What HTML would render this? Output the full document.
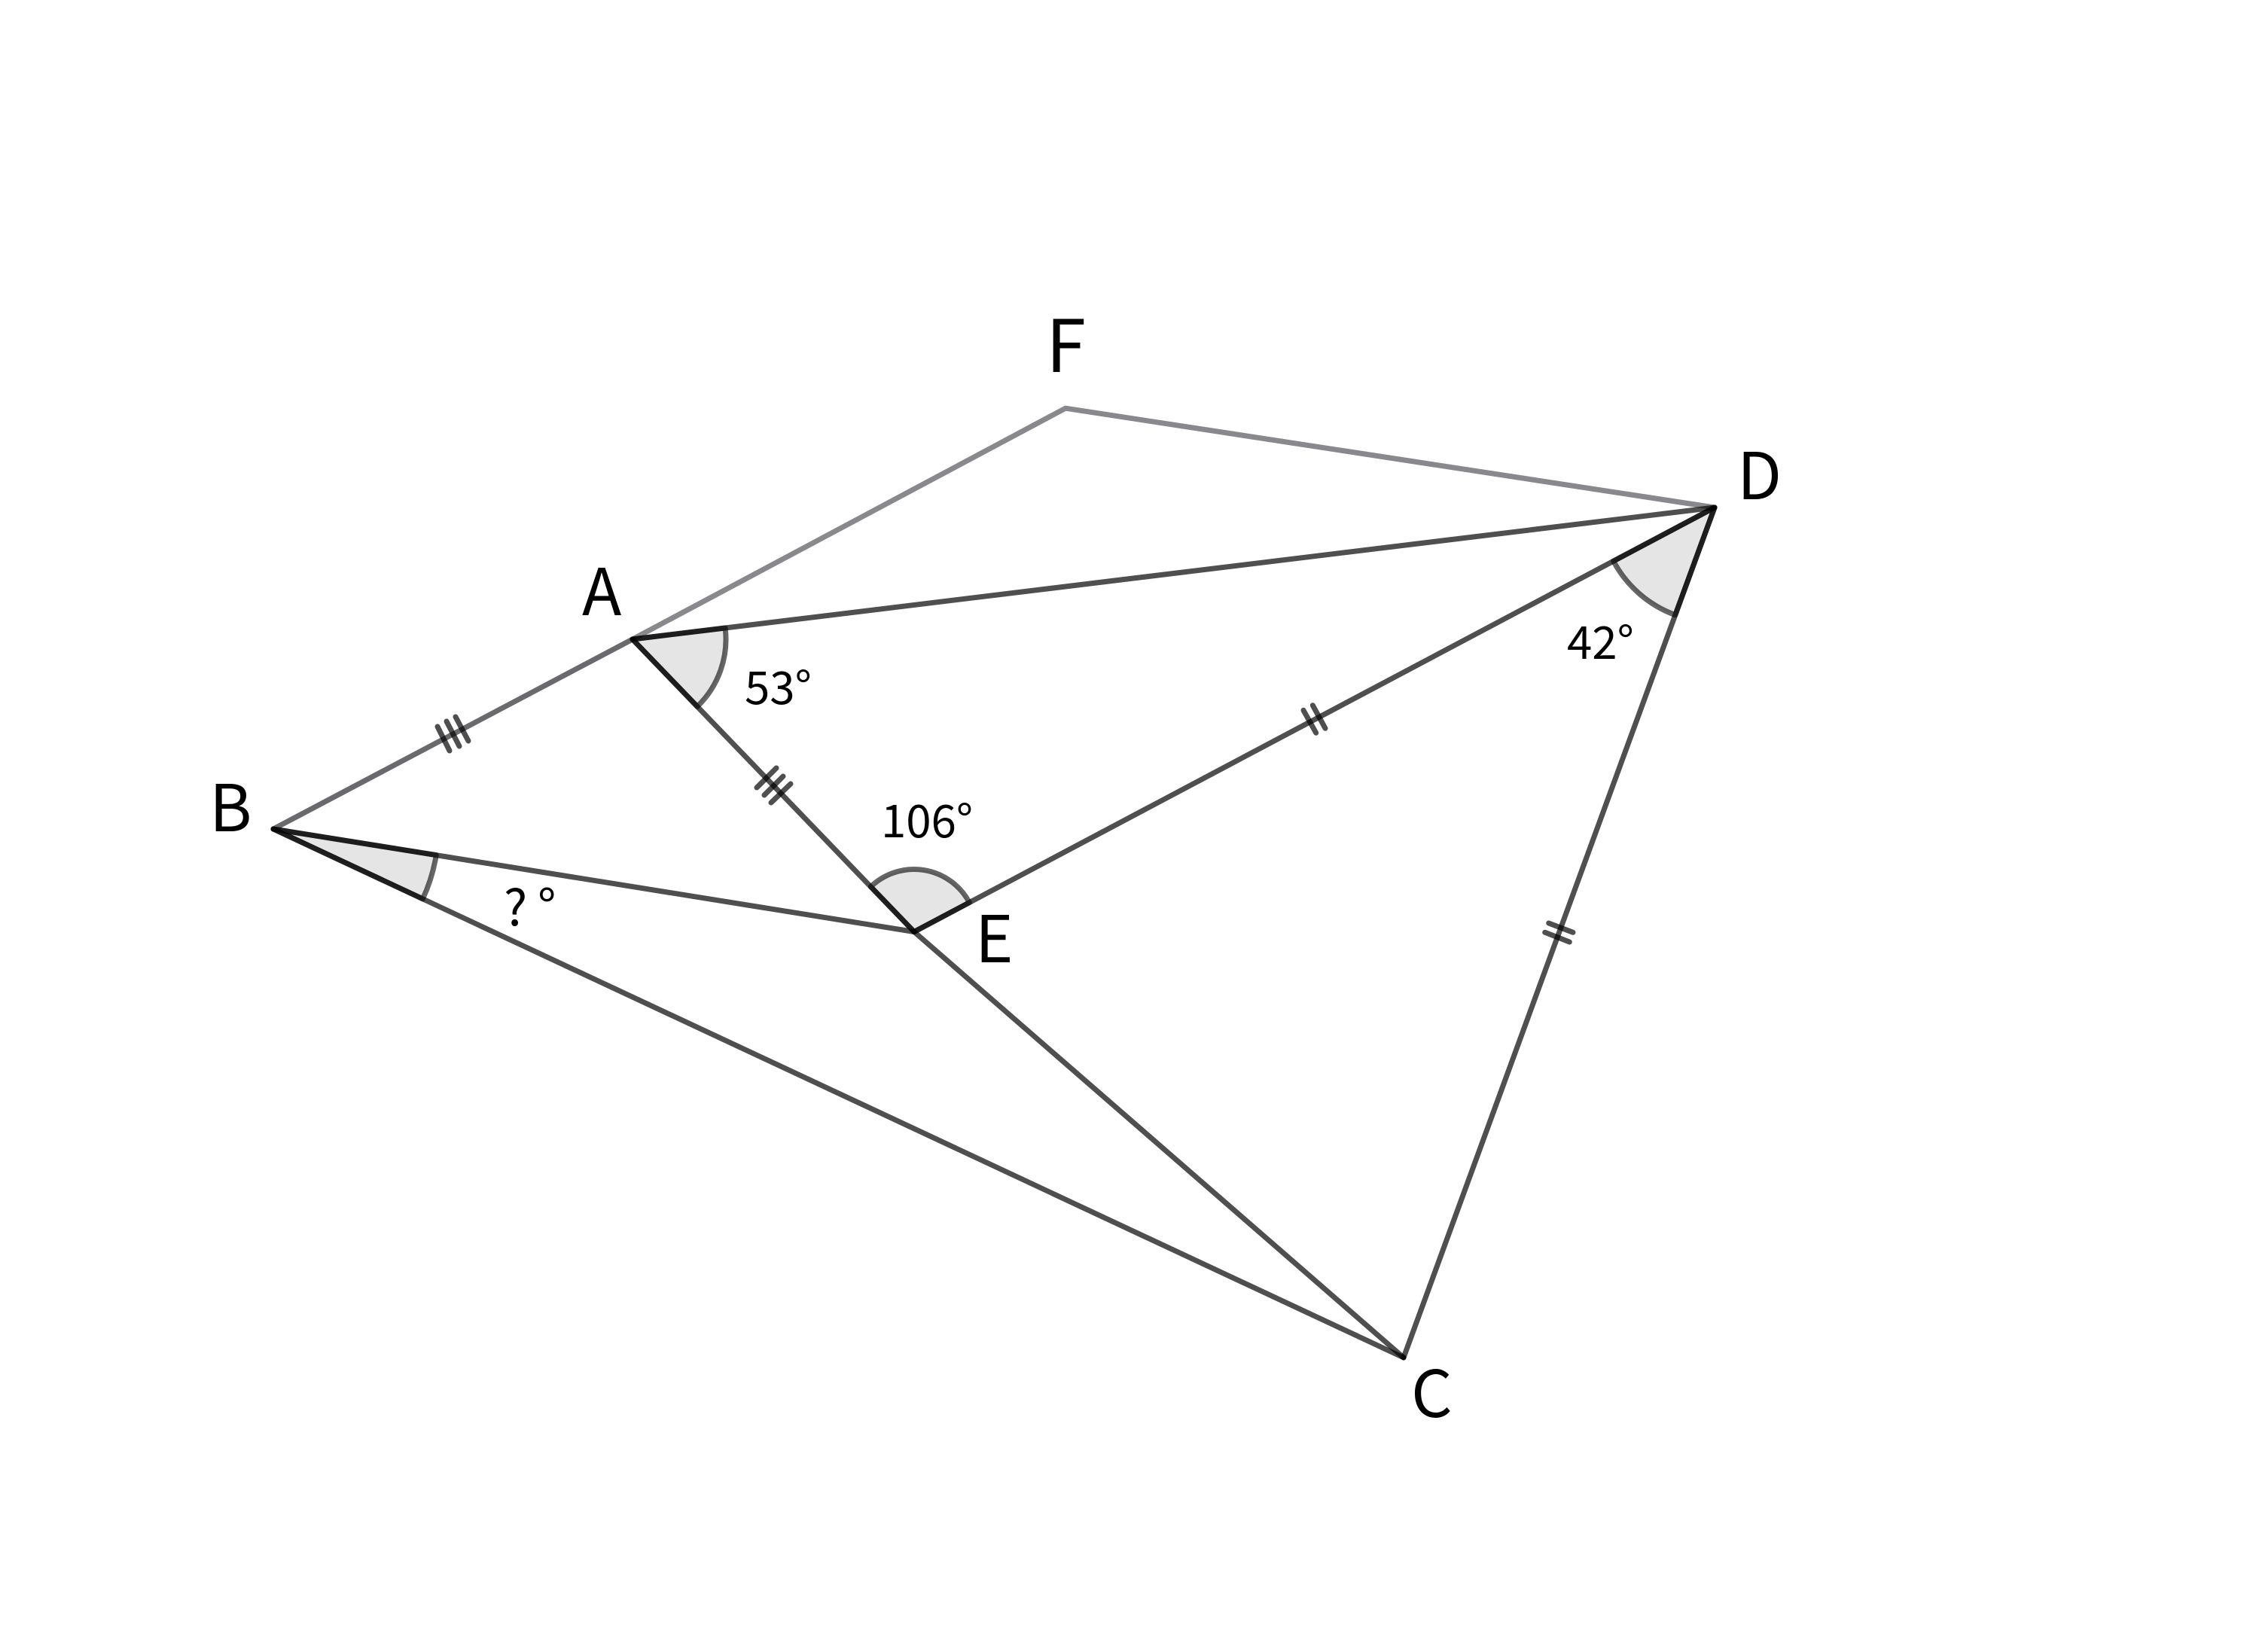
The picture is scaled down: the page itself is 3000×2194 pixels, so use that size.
<!DOCTYPE html>
<html>
<head>
<meta charset="utf-8">
<style>
html,body{margin:0;padding:0;background:#fff;width:3000px;height:2194px;overflow:hidden}
svg{display:block}
text{font-family:"Noto Sans CJK JP","Noto Sans CJK SC","Liberation Sans",sans-serif;fill:#000}
.b{font-size:86px}
.s{font-size:60px}
</style>
</head>
<body>
<svg width="3000" height="2194" viewBox="0 0 3000 2194" xmlns="http://www.w3.org/2000/svg">
<rect width="3000" height="2194" fill="#fff"/>
<g fill="#e5e5e5" stroke="none">
<path d="M840 849L963.1 834A124 124 0 0 1 926 938.3Z"/>
<path d="M363 1101L579.3 1135.6A219 219 0 0 1 561.4 1193.8Z"/>
<path d="M1214 1237.5L1156.4 1177.7A83 83 0 0 1 1287.3 1198.6Z"/>
<path d="M2277 674L2142.7 745.2A152 152 0 0 0 2224.8 816.7Z"/>
</g>
<g fill="none" stroke-linecap="round" stroke-linejoin="round" stroke-width="7">
<path d="M840 849L1415 542.2L2277 674" stroke="#89888d"/>
<path d="M840 849L363 1101" stroke="#6a6a6e"/>
<g stroke="#000" stroke-opacity=".69">
<path d="M840 849L2277 674"/>
<path d="M840 849L1214 1237.5"/>
<path d="M363 1101L1214 1237.5"/>
<path d="M363 1101L1864 1803"/>
<path d="M1214 1237.5L1864 1803"/>
<path d="M1214 1237.5L2277 674"/>
<path d="M2277 674L1864 1803"/>
<path d="M581 965L597 997M593 958L610 991M605 952L622 984"/>
<path d="M1005 1046L1031 1020M1015 1056L1040 1031M1024 1066L1050 1041"/>
<path d="M1731 943.3L1747.7 973.3M1743.3 936.7L1760 967.3"/>
<path d="M2056.7 1226L2089 1238.3M2051.7 1238.3L2084.3 1251"/>
</g>
<g stroke="#000" stroke-opacity=".6">
<path d="M840 849L963.1 834A124 124 0 0 1 926 938.3Z"/>
<path d="M363 1101L579.3 1135.6A219 219 0 0 1 561.4 1193.8Z"/>
<path d="M1214 1237.5L1156.4 1177.7A83 83 0 0 1 1287.3 1198.6Z"/>
<path d="M2277 674L2142.7 745.2A152 152 0 0 0 2224.8 816.7Z"/>
</g>
</g>
<text class="b" x="773" y="817">A</text>
<text class="b" x="278" y="1104">B</text>
<text class="b" x="1874" y="1882">C</text>
<text class="b" x="2307" y="663">D</text>
<text class="b" x="1295" y="1278">E</text>
<text class="b" style="font-size:96px" x="1389" y="494">F</text>
<text class="s" x="989" y="935">53°</text>
<text class="s" x="1170" y="1112">106°</text>
<text class="s" x="2081" y="875">42°</text>
<text class="s" style="font-size:66px" x="669" y="1229">?</text>
<text class="s" style="font-size:66px" x="714" y="1229">°</text>
</svg>
</body>
</html>
